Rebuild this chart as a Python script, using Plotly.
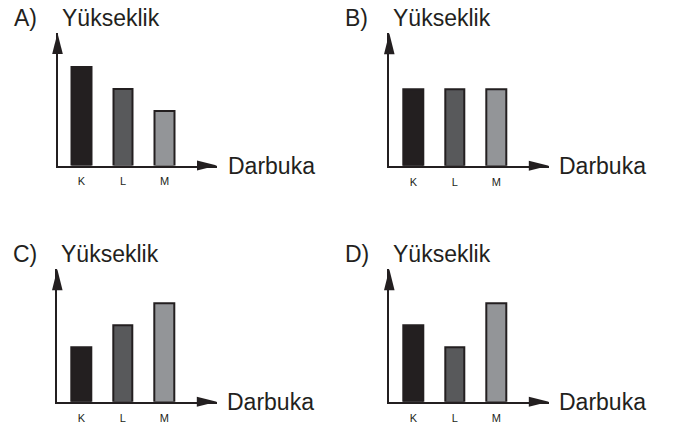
import plotly.graph_objects as go

# ---- data ----
panel_labels = ["A)", "B)", "C)", "D)"]
categories = ["K", "L", "M"]
heights_A = [9, 7, 5]
heights_B = [7, 7, 7]
heights_C = [5, 7, 9]
heights_D = [7, 5, 9]
bar_colors = ["#231f20", "#58595b", "#939598"]
y_title = "Yükseklik"
x_title = "Darbuka"

# ---- layout constants (pixels) ----
W, H = 678, 423
INK = "#231f20"
FONT = "Liberation Sans, Arial, Helvetica, sans-serif"
origins = [(57.5, 165.5), (389.3, 165.7), (57.3, 401.7), (389.3, 401.7)]
X_LEN = 159.5      # axis origin -> x arrow tip
Y_LEN = 132.5      # axis origin -> y arrow tip
CAT_STEP = 41.5    # px per category
FIRST_CAT = 24.0   # px from y-axis to first bar centre
UNIT_Y = 10.9      # px per height unit


def px(x):
    return x / W


def py(y):
    return 1 - y / H


series = [heights_A, heights_B, heights_C, heights_D]
fig = go.Figure()
shapes = []
annotations = []

for i, (label, vals, (ox, oy)) in enumerate(zip(panel_labels, series, origins)):
    n = "" if i == 0 else str(i + 1)
    xa, ya = "x" + n, "y" + n
    fig.add_trace(go.Bar(
        x=list(range(len(categories))), y=vals,
        xaxis=xa, yaxis=ya, width=0.46,
        marker=dict(color=bar_colors,
                    line=dict(color=[bar_colors[0], INK, INK], width=2)),
        showlegend=False, hoverinfo="skip",
    ))
    xr = [-FIRST_CAT / CAT_STEP, (X_LEN - FIRST_CAT) / CAT_STEP]
    yr = [0, Y_LEN / UNIT_Y]
    fig.layout["xaxis" + n] = dict(
        domain=[px(ox), px(ox + X_LEN)], range=xr, anchor=ya,
        showgrid=False, zeroline=False, showline=True, linecolor=INK, linewidth=1.5,
        tickvals=list(range(len(categories))), ticktext=categories, ticks="",
        ticklabelstandoff=5,
        tickfont=dict(size=11, color=INK, family=FONT), fixedrange=True,
    )
    fig.layout["yaxis" + n] = dict(
        domain=[py(oy), py(oy - Y_LEN)], range=yr, anchor=xa,
        showgrid=False, zeroline=False, showline=True, linecolor=INK, linewidth=1.5,
        showticklabels=False, ticks="", fixedrange=True,
    )
    # arrow heads
    tx, ty = ox, oy - Y_LEN
    shapes.append(dict(type="path", xref="paper", yref="paper",
                       path=f"M {px(tx)} {py(ty)} L {px(tx - 5.3)} {py(ty + 21)} L {px(tx + 5.3)} {py(ty + 21)} Z",
                       fillcolor=INK, line=dict(width=0)))
    tx, ty = ox + X_LEN, oy
    shapes.append(dict(type="path", xref="paper", yref="paper",
                       path=f"M {px(tx)} {py(ty)} L {px(tx - 20)} {py(ty - 5)} L {px(tx - 20)} {py(ty + 5)} Z",
                       fillcolor=INK, line=dict(width=0)))
    # texts
    annotations.append(dict(text=label, xref="paper", yref="paper", x=px(ox - 46), y=py(oy - 148),
                            xanchor="left", yanchor="middle", showarrow=False,
                            font=dict(size=23, color=INK, family=FONT)))
    annotations.append(dict(text=y_title, xref="paper", yref="paper", x=px(ox + 2), y=py(oy - 148),
                            xanchor="left", yanchor="middle", showarrow=False,
                            font=dict(size=23, color=INK, family=FONT)))
    annotations.append(dict(text=x_title, xref="paper", yref="paper", x=px(ox + 168), y=py(oy),
                            xanchor="left", yanchor="middle", showarrow=False,
                            font=dict(size=23, color=INK, family=FONT)))

fig.update_layout(
    width=W, height=H, margin=dict(l=0, r=0, t=0, b=0),
    paper_bgcolor="white", plot_bgcolor="white",
    shapes=shapes, annotations=annotations, bargap=0,
)
fig.write_html("out.html", config={"displayModeBar": False},
               post_script="document.body.style.margin='0';document.body.style.overflow='hidden';")
